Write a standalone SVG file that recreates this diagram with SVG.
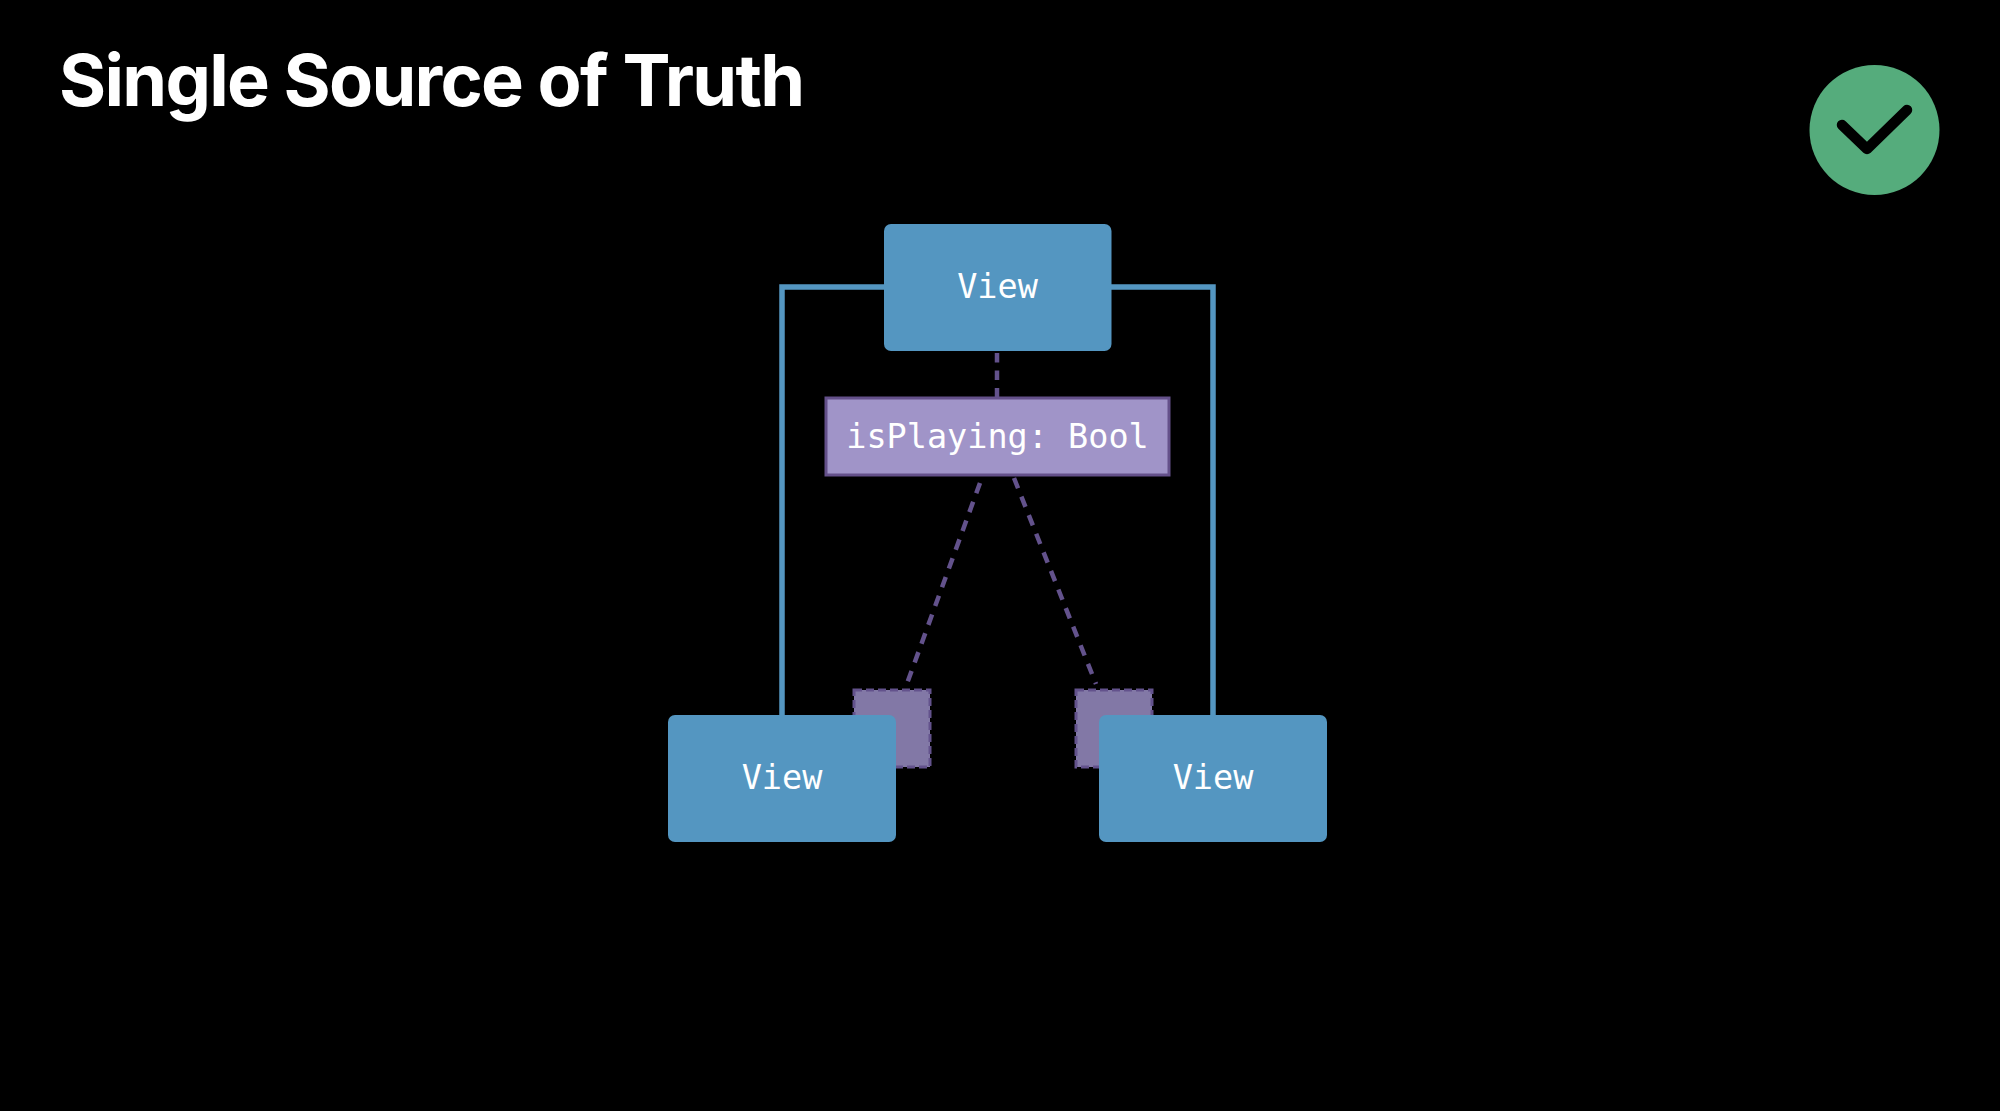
<svg xmlns="http://www.w3.org/2000/svg" width="2000" height="1111" viewBox="0 0 2000 1111">
<style>
.view{fill:#5496c1}
.lbl{font-family:"DejaVu Sans Mono","Liberation Mono",monospace;font-size:33.500px;fill:#fff;text-anchor:middle}
.wire{fill:none;stroke:#5496c1;stroke-width:5.500}
.dash{fill:none;stroke:#63528c;stroke-width:4.500;stroke-dasharray:11 9}
.mini{fill:#8278a6;stroke:#63528c;stroke-width:3;stroke-dasharray:8 4}
</style>
<rect width="2000" height="1111" fill="#000"/>
<text id="title" x="59" y="106" font-family="Inter,'Liberation Sans',sans-serif" font-weight="700" font-size="72" letter-spacing="-1.700" fill="#fff">Single Source of Truth</text>
<g id="connectors">
<path class="wire" d="M782 715V287H884"/>
<path class="wire" d="M1213 715V287H1111"/>
<path class="dash" style="stroke-dasharray:9.500 8" d="M997 353V398"/>
<path class="dash" d="M980 483L905 689"/>
<path class="dash" d="M1014 478L1096 684"/>
</g>
<g id="badge-left"><rect class="mini" x="854" y="690" width="76" height="77"/></g>
<g id="badge-right"><rect class="mini" x="1076" y="690" width="76" height="77"/></g>
<g id="view-top"><rect class="view" x="884" y="224" width="227.500" height="127" rx="7"/><text class="lbl" x="997.500" y="298">View</text></g>
<g id="state"><rect x="826" y="398" width="343" height="77" fill="#a094c8" stroke="#64508a" stroke-width="3"/><text class="lbl" x="997.500" y="448">isPlaying: Bool</text></g>
<g id="view-left"><rect class="view" x="668" y="715" width="228" height="127" rx="7"/><text class="lbl" x="782" y="789">View</text></g>
<g id="view-right"><rect class="view" x="1099" y="715" width="228" height="127" rx="7"/><text class="lbl" x="1213" y="789">View</text></g>
<g id="check"><circle cx="1874.500" cy="130" r="65" fill="#55ac7c"/><path d="M1842 125L1867 149L1907 110" fill="none" stroke="#000" stroke-width="10.500" stroke-linecap="round" stroke-linejoin="round"/></g>
</svg>
